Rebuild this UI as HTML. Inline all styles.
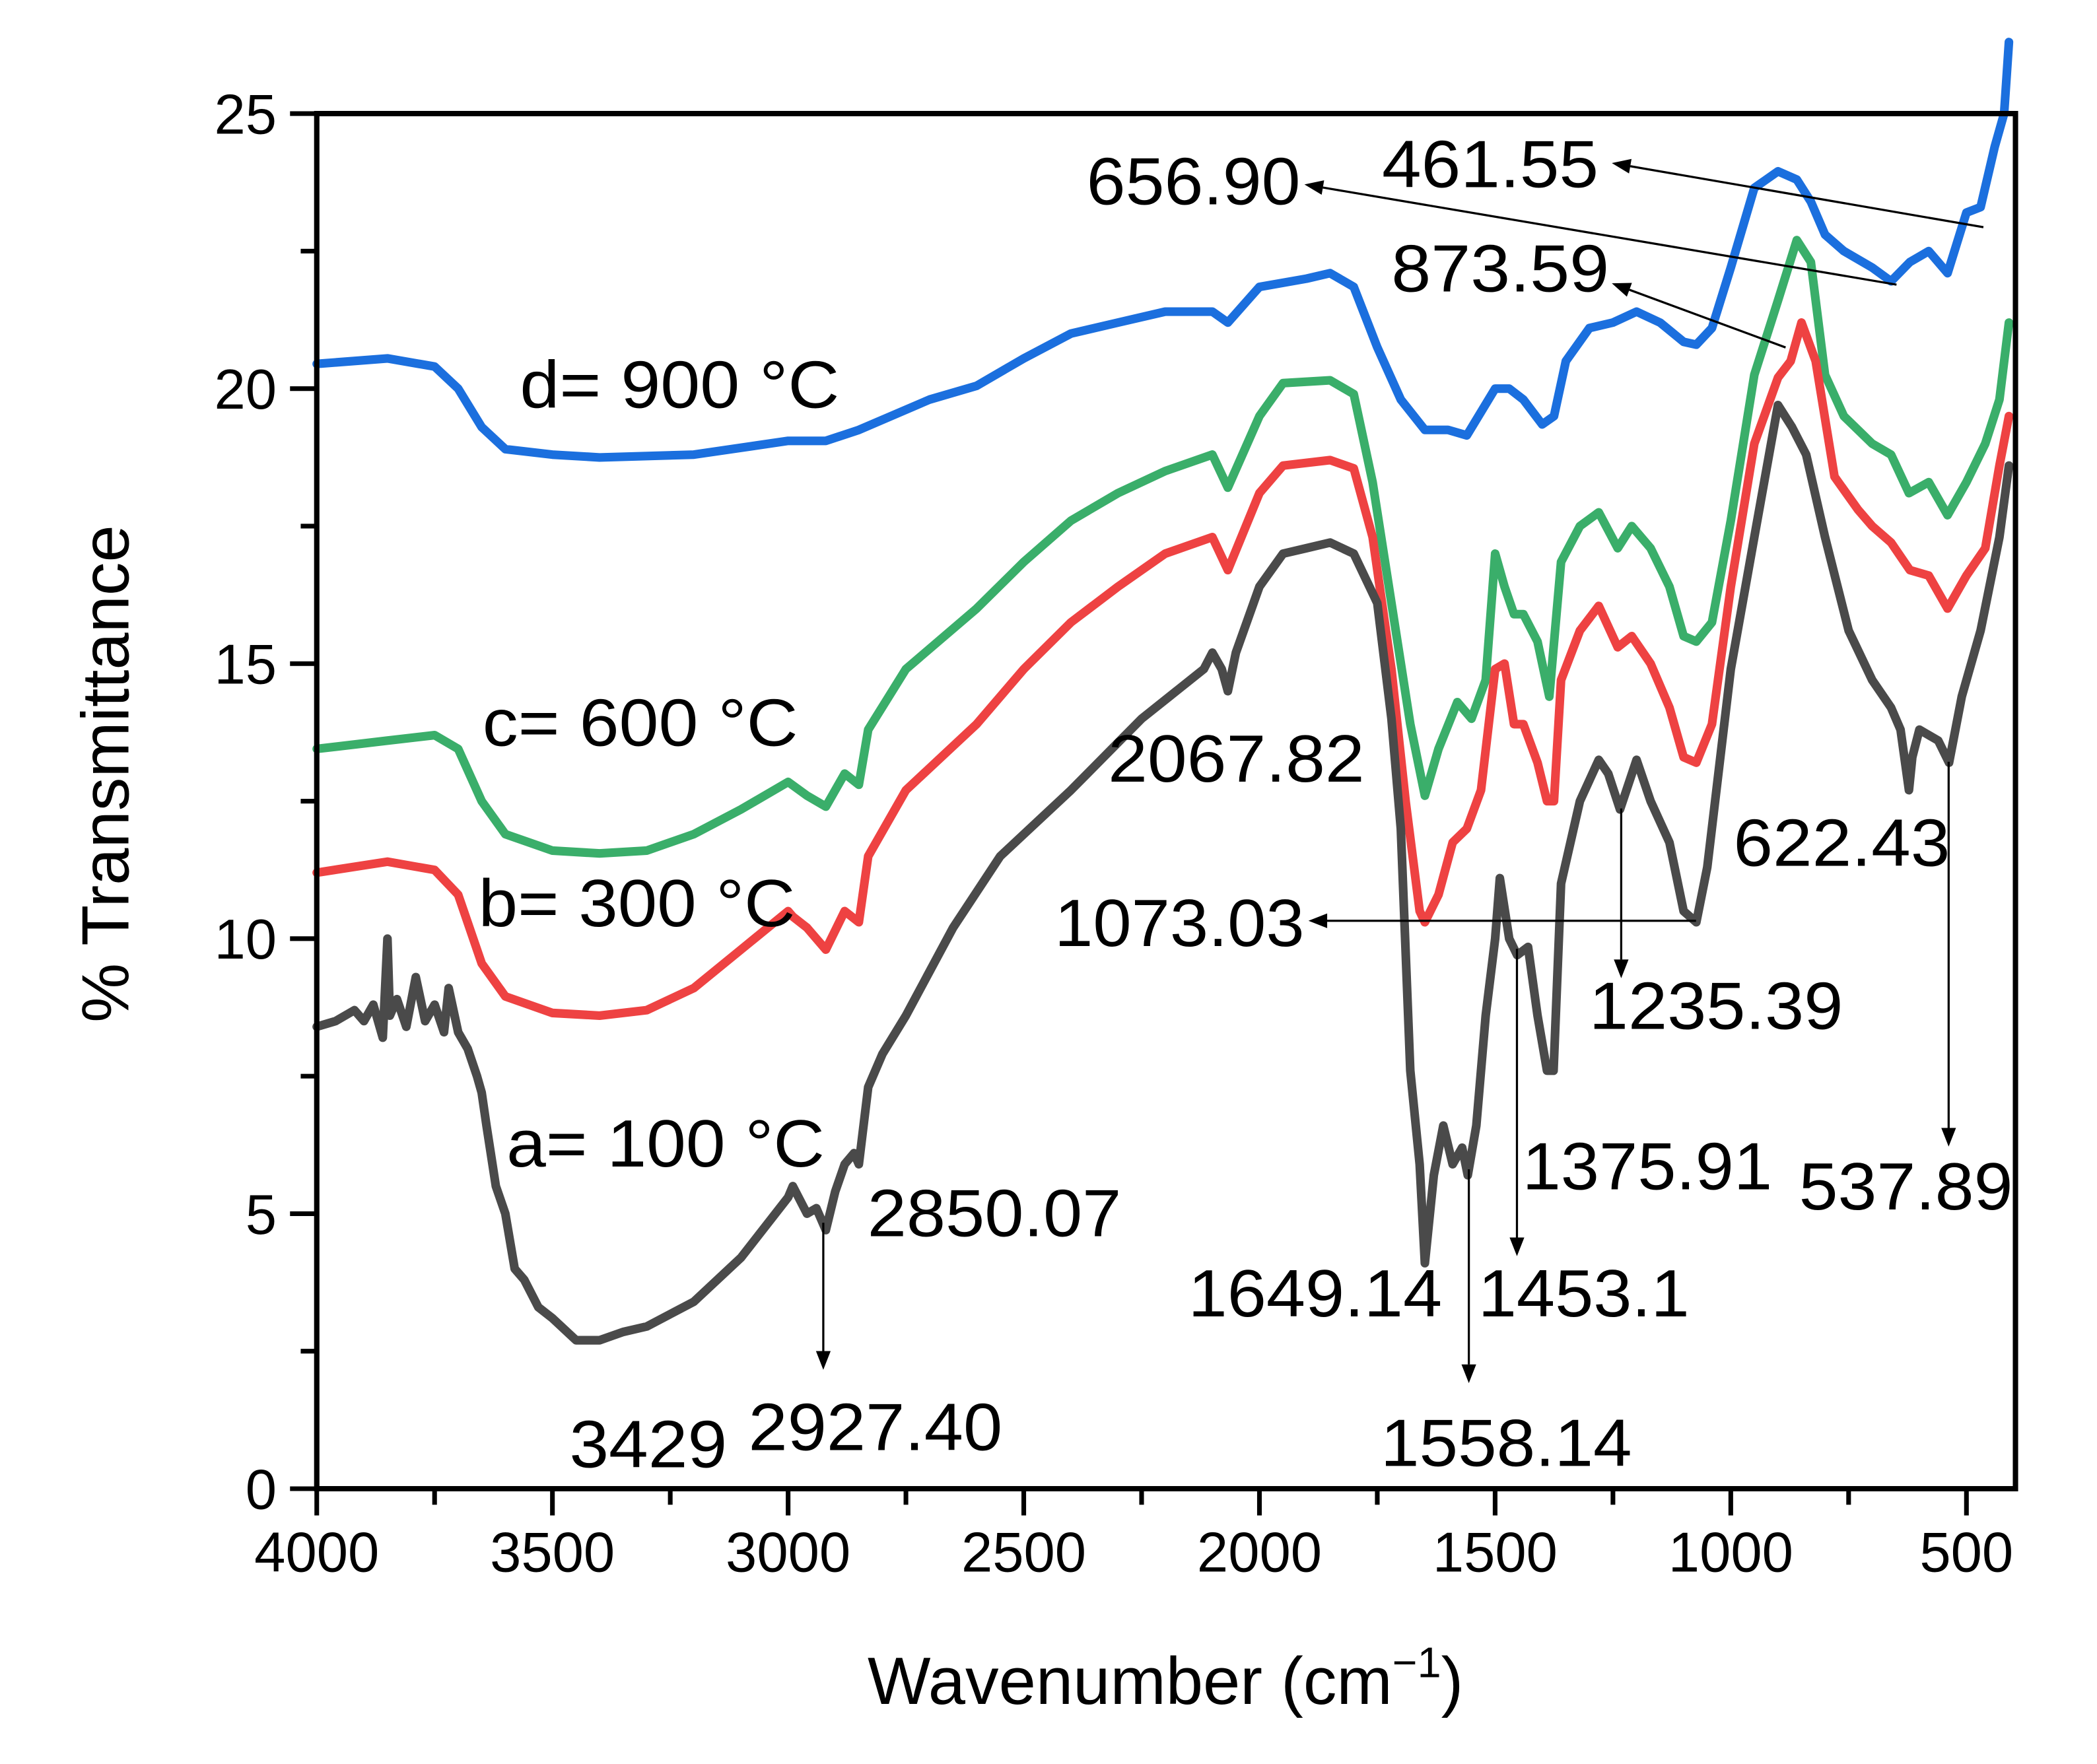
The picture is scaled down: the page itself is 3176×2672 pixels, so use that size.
<!DOCTYPE html>
<html><head><meta charset="utf-8"><style>
html,body{margin:0;padding:0;background:#fff;}
svg{display:block;}
text{font-family:"Liberation Sans",Arial,sans-serif;fill:#000;}
</style></head>
<body>
<svg id="chart" width="3176" height="2672" viewBox="-1 0 1569 1320" preserveAspectRatio="none" xmlns="http://www.w3.org/2000/svg">
<g id="series"></g>
<g id="axes"></g>
<g id="annots"></g>
</svg>
<script>
const wnA=[4000,3960,3920,3900,3880,3860,3850,3845,3830,3810,3790,3770,3750,3730,3720,3700,3680,3660,3650,3640,3620,3600,3580,3560,3530,3500,3450,3400,3350,3300,3200,3100,3000,2990,2960,2940,2920,2900,2880,2860,2850,2830,2800,2750,2650,2550,2400,2250,2118,2100,2080,2067,2050,2000,1950,1900,1850,1800,1750,1720,1700,1680,1660,1649,1630,1610,1590,1570,1558,1540,1520,1500,1490,1470,1453,1430,1410,1390,1376,1360,1320,1280,1260,1235,1200,1170,1130,1100,1073,1050,1000,950,900,870,840,800,750,700,660,640,622,615,600,560,537,510,470,430,410];
const tA=[8.4,8.5,8.7,8.5,8.8,8.2,10.0,8.6,8.9,8.4,9.3,8.5,8.8,8.3,9.1,8.3,8.0,7.5,7.2,6.6,5.5,5.0,4.0,3.8,3.3,3.1,2.7,2.7,2.85,2.95,3.4,4.2,5.3,5.5,5.0,5.1,4.7,5.4,5.9,6.1,5.9,7.3,7.9,8.6,10.2,11.5,12.7,14.0,14.9,15.2,14.9,14.5,15.2,16.4,17.0,17.1,17.2,17.0,16.1,14.0,12.0,7.6,5.9,4.1,5.7,6.6,5.9,6.2,5.7,6.6,8.6,10.0,11.1,10.0,9.7,9.85,8.6,7.6,7.6,11.0,12.5,13.25,13.0,12.35,13.25,12.5,11.75,10.5,10.3,11.3,14.9,17.3,19.7,19.3,18.8,17.3,15.6,14.7,14.2,13.8,12.7,13.3,13.8,13.6,13.2,14.4,15.6,17.3,18.6];
const wnB=[4000,3850,3750,3700,3650,3600,3500,3400,3300,3200,3100,3000,2990,2960,2920,2880,2850,2830,2750,2600,2500,2400,2300,2200,2100,2067,2000,1950,1850,1800,1760,1720,1690,1660,1649,1620,1590,1560,1530,1500,1480,1460,1440,1410,1390,1375,1360,1320,1280,1240,1210,1170,1130,1100,1073,1040,1000,950,900,873,850,820,780,730,700,660,620,580,540,500,460,430,410];
const tB=[11.2,11.4,11.25,10.8,9.55,8.95,8.65,8.6,8.7,9.1,9.8,10.5,10.4,10.2,9.8,10.5,10.3,11.5,12.7,13.9,14.9,15.75,16.4,17.0,17.3,16.7,18.1,18.6,18.7,18.55,17.3,14.9,12.5,10.5,10.3,10.8,11.75,12.0,12.7,14.9,15.0,13.9,13.9,13.2,12.5,12.5,14.7,15.6,16.05,15.3,15.5,15.0,14.2,13.3,13.2,13.9,16.4,19.0,20.2,20.5,21.2,20.5,18.4,17.8,17.5,17.2,16.7,16.6,16.0,16.6,17.1,18.6,19.5];
const wnC=[4000,3850,3750,3700,3650,3600,3500,3400,3300,3200,3100,3000,2960,2920,2880,2850,2830,2750,2600,2500,2400,2300,2200,2100,2067,2000,1950,1850,1800,1760,1720,1680,1649,1620,1580,1550,1520,1500,1480,1460,1440,1410,1385,1360,1320,1280,1240,1210,1170,1130,1100,1073,1040,1000,950,900,860,830,800,760,700,660,622,580,540,500,460,430,410];
const tC=[13.45,13.6,13.7,13.45,12.5,11.9,11.6,11.55,11.6,11.9,12.35,12.85,12.6,12.4,13.0,12.8,13.8,14.9,16.0,16.85,17.6,18.1,18.5,18.8,18.2,19.5,20.1,20.15,19.9,18.3,16.1,13.9,12.6,13.45,14.3,14.0,14.7,17.0,16.4,15.9,15.9,15.4,14.4,16.85,17.5,17.75,17.1,17.5,17.1,16.4,15.5,15.4,15.75,17.6,20.25,21.6,22.7,22.3,20.25,19.5,19.0,18.8,18.1,18.3,17.7,18.3,19.0,19.8,21.2];
const wnD=[4000,3850,3750,3700,3650,3600,3500,3400,3200,3000,2920,2850,2700,2600,2500,2400,2300,2200,2100,2067,2000,1900,1850,1800,1750,1700,1649,1600,1560,1500,1470,1440,1400,1375,1350,1300,1250,1200,1150,1100,1073,1040,1000,950,900,860,830,800,760,700,660,620,580,540,500,470,440,420,410];
const tD=[20.45,20.55,20.4,20.0,19.3,18.9,18.8,18.75,18.8,19.05,19.05,19.25,19.8,20.05,20.55,21.0,21.2,21.4,21.4,21.2,21.85,22.0,22.1,21.85,20.75,19.8,19.25,19.25,19.15,20.0,20.0,19.8,19.35,19.5,20.5,21.1,21.2,21.4,21.2,20.85,20.8,21.1,22.2,23.65,23.95,23.8,23.4,22.8,22.5,22.2,21.95,22.3,22.5,22.1,23.2,23.3,24.4,25.0,26.3];
const xTicks=[4000,3500,3000,2500,2000,1500,1000,500];
const yTicks=[0,5,10,15,20,25];

const L=236,R=1507,T=85,B=1114,WMAX=4000,WMIN=396,YMIN=0,YMAX=25;
const NS="http://www.w3.org/2000/svg";
function X(w){return L+(WMAX-w)/(WMAX-WMIN)*(R-L);}
function Y(v){return B-(v-YMIN)/(YMAX-YMIN)*(B-T);}
function mk(tag,attrs,parent){const e=document.createElementNS(NS,tag);for(const k in attrs)e.setAttribute(k,attrs[k]);parent.appendChild(e);return e;}
const sg=document.getElementById('series');
function series(wn,t,color,name){
  let d='';for(let i=0;i<wn.length;i++){d+=(i?'L':'M')+X(wn[i]).toFixed(1)+' '+Y(t[i]).toFixed(1);}
  const p=mk('path',{d:d,fill:'none',stroke:color,'stroke-width':6.5,'stroke-linejoin':'round','stroke-linecap':'round'},sg);
  
  
}
series(wnD,tD,'#1b6fde','series-d-900c');
series(wnC,tC,'#3aae6a','series-c-600c');
series(wnB,tB,'#ee4242','series-b-300c');
series(wnA,tA,'#4a4a4a','series-a-100c');

const ag=document.getElementById('axes');
const frame=mk('path',{d:`M${L} ${T}H${R}V${B}H${L}Z`,fill:'none',stroke:'#000','stroke-width':4},ag);


for(const v of xTicks){
  const x=X(v);
  const t=mk('line',{x1:x,x2:x,y1:B,y2:B+20,stroke:'#000','stroke-width':3.5},ag);
  
  
  const lb=mk('text',{x:x,y:B+62,'font-size':42,'text-anchor':'middle'},ag);lb.textContent=v;
  
  
}
for(let v=3750;v>WMIN;v-=500){const x=X(v);const t=mk('line',{x1:x,x2:x,y1:B,y2:B+12,stroke:'#000','stroke-width':3.5},ag);
  
  }
for(const v of yTicks){
  const y=Y(v);
  const t=mk('line',{x1:L-20,x2:L,y1:y,y2:y,stroke:'#000','stroke-width':3.5},ag);
  
  
  const lb=mk('text',{x:L-30,y:y+15,'font-size':42,'text-anchor':'end'},ag);lb.textContent=v;
  
  
}
for(let v=2.5;v<25;v+=5){const y=Y(v);const t=mk('line',{x1:L-12,x2:L,y1:y,y2:y,stroke:'#000','stroke-width':3.5},ag);
  
  }
const xt=mk('text',{x:871,y:1275,'font-size':50,'text-anchor':'middle'},ag);
xt.innerHTML='Wavenumber (cm<tspan dy="-20" font-size="32">−1</tspan><tspan dy="20">)</tspan>';


const yt=mk('text',{x:0,y:0,'font-size':50,'text-anchor':'middle',transform:'translate(95,579) rotate(-90)'},ag);
yt.textContent='% Transmittance';



const an=document.getElementById('annots');
const labels=[
 ['656.90',812,153,160],['461.55',1033,140,162],['873.59',1040,218,163],
 ['d= 900 °C',388,305,239],['c= 600 °C',360,558,236],['b= 300 °C',357,693,237],['a= 100 °C',378,873,238],
 ['2067.82',828,585,192],['622.43',1296,648,162],['1073.03',788,708,187],['1235.39',1188,770,190],
 ['1375.91',1138,890,187],['537.89',1345,905,160],['2850.07',648,925,190],['1649.14',888,985,190],
 ['1453.1',1105,985,158],['3429',425,1098,118],['2927.40',559,1085,190],['1558.14',1032,1097,188]];
for(const l of labels){
  const t=mk('text',{x:l[1],y:l[2],'font-size':50,textLength:l[3],lengthAdjust:'spacingAndGlyphs'},an);
  t.textContent=l[0];
  
  
}
const arrows=[[1483,170,1205,122],[1418,213,975,138],[1335,260,1205,212],[1268,689,978,689],
 [1212,605,1212,732],[1457,570,1457,858],[1134,710,1134,940],[1098,875,1098,1035],[615,915,615,1025]];
for(const a of arrows){
  const [x1,y1,x2,y2]=a;const ang=Math.atan2(y2-y1,x2-x1);const h=14,w=5.5;
  const bx=x2-h*Math.cos(ang),by=y2-h*Math.sin(ang);
  const ln=mk('line',{x1:x1,y1:y1,x2:bx,y2:by,stroke:'#000','stroke-width':1.6},an);
  
  
  const px=-Math.sin(ang)*w,py=Math.cos(ang)*w;
  const hd=mk('polygon',{points:`${x2},${y2} ${bx+px},${by+py} ${bx-px},${by-py}`,fill:'#000'},an);
  
  
}
</script>
</body></html>
